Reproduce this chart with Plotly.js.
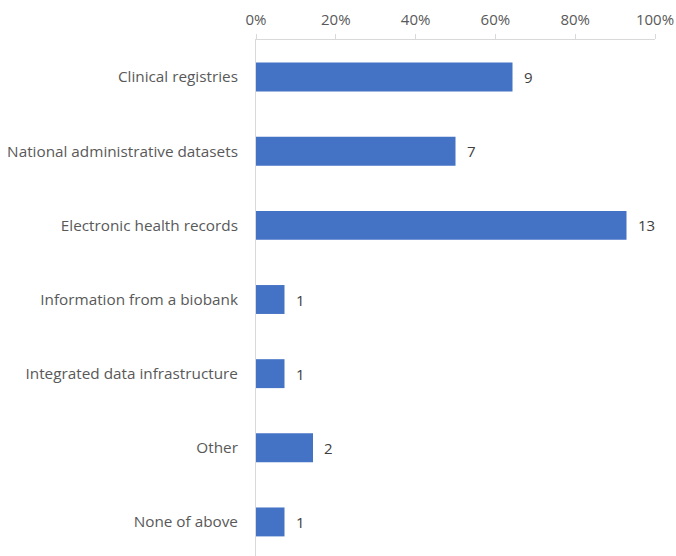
<!DOCTYPE html>
<html>
<head>
<meta charset="utf-8">
<script src="https://cdn.plot.ly/plotly-3.0.1.min.js"></script>
<style>html,body{margin:0;padding:0;overflow:hidden;background:#fff}</style>
</head>
<body>
<div id="chart" style="width:676px;height:560px"></div>
<script>
const categories = ["Clinical registries", "National administrative datasets", "Electronic health records", "Information from a biobank", "Integrated data infrastructure", "Other", "None of above"];
const counts = [9, 7, 13, 1, 1, 2, 1];
const respondents = 14;
const shares = counts.map(c => c / respondents);
const tickVals = [0, 0.2, 0.4, 0.6, 0.8, 1.0];
const tickText = ["0%", "20%", "40%", "60%", "80%", "100%"];

const font = "Open Sans, sans-serif";
const annotations = categories.map((c, i) => ({
  x: shares[i], y: c, xref: "x", yref: "y",
  text: String(counts[i]), showarrow: false,
  xanchor: "left", yanchor: "middle", xshift: 9,
  font: {family: font, size: 15, color: "#404040"}
}));

Plotly.newPlot("chart", [{
  type: "bar",
  orientation: "h",
  y: categories,
  x: shares,
  marker: {color: "#4472C4"},
  width: 0.39,
  hoverinfo: "none"
}], {
  width: 676, height: 560,
  margin: {l: 256, r: 21, t: 40, b: 1},
  paper_bgcolor: "#fff", plot_bgcolor: "#fff",
  showlegend: false,
  annotations: annotations,
  xaxis: {
    side: "top", range: [0, 1], tickvals: tickVals, ticktext: tickText,
    showgrid: false, zeroline: false, showline: true, linecolor: "#d9d9d9", linewidth: 1,
    ticks: "outside", ticklen: 5, tickcolor: "#d9d9d9", tickwidth: 1,
    ticklabelstandoff: 3,
    tickfont: {family: font, size: 15, color: "#595959"}, fixedrange: true
  },
  yaxis: {
    autorange: "reversed", showgrid: false, zeroline: false,
    showline: true, linecolor: "#d9d9d9", linewidth: 1,
    ticks: "", ticklabelstandoff: 14,
    tickfont: {family: font, size: 15.3, color: "#595959"}, fixedrange: true
  }
}, {displayModeBar: false, staticPlot: true});
</script>
</body>
</html>
